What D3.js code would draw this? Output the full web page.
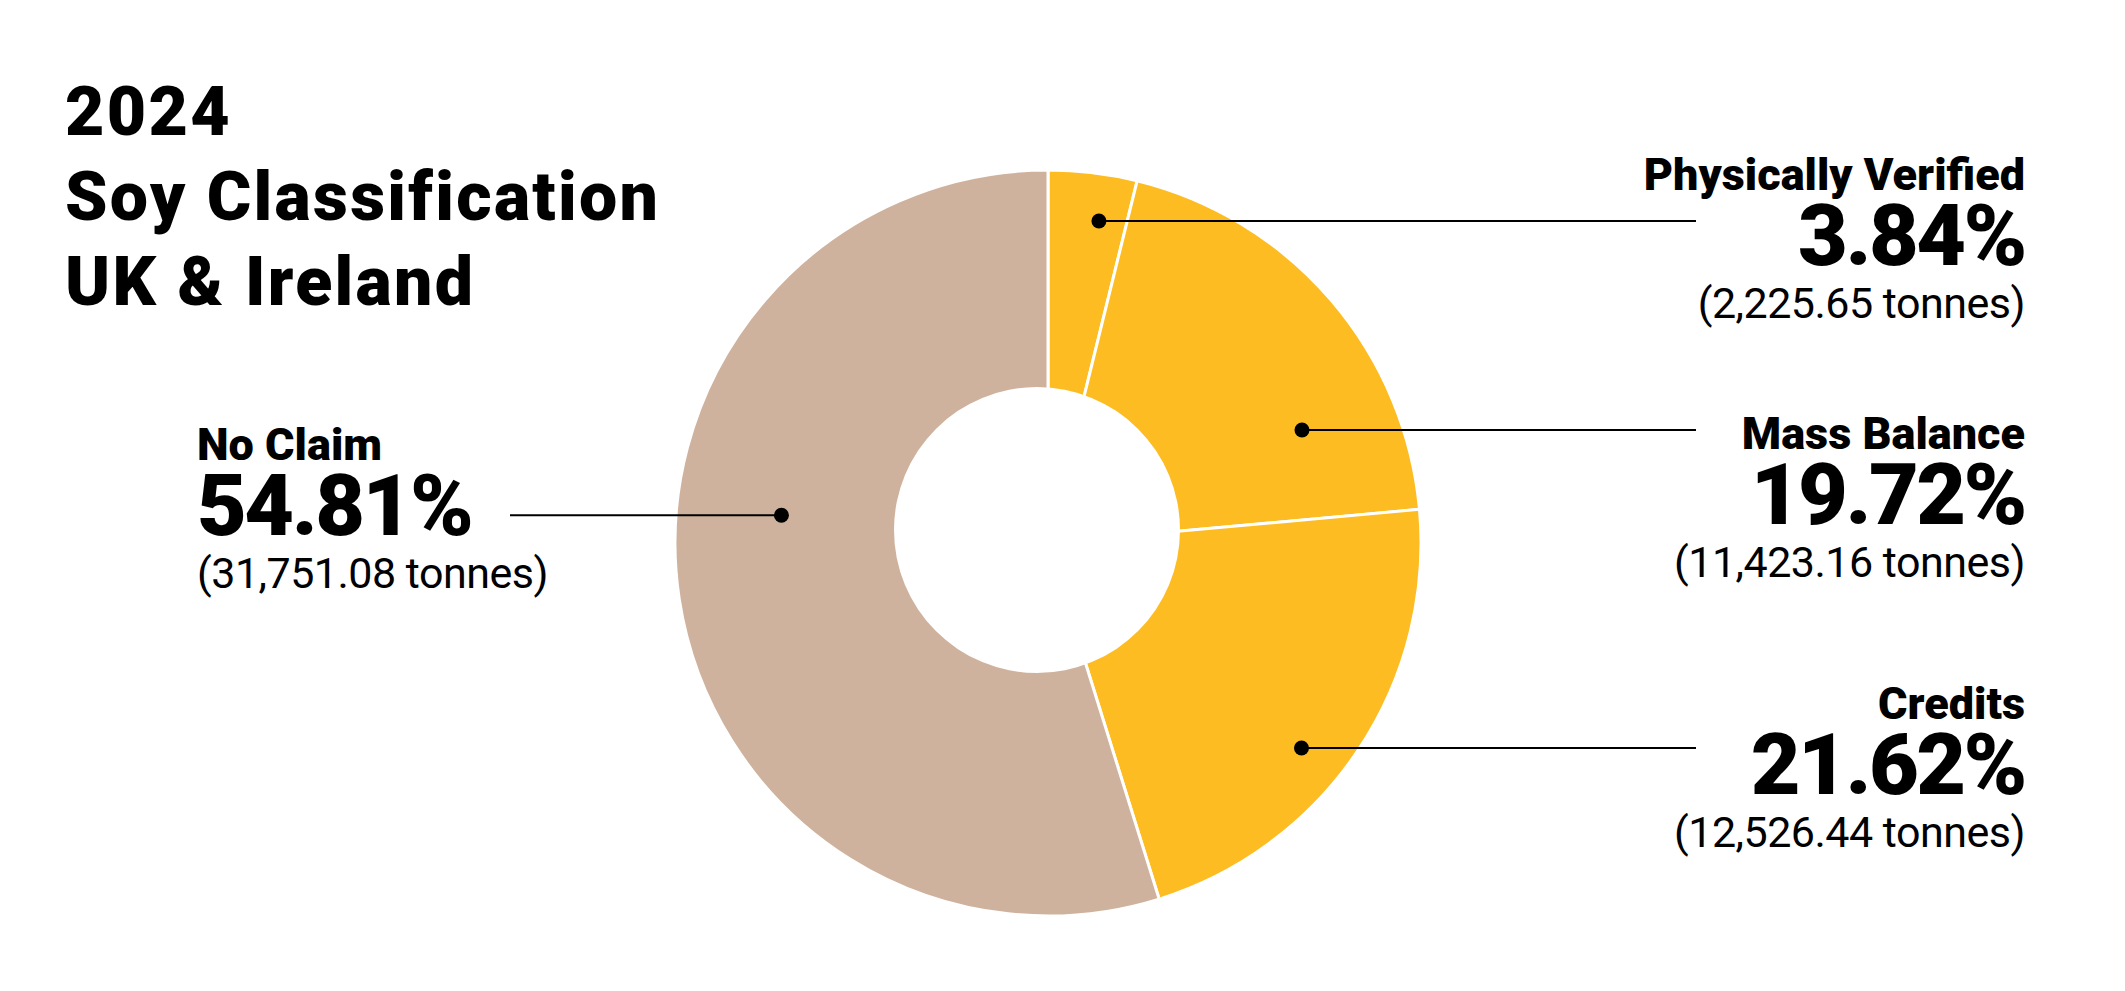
<!DOCTYPE html>
<html>
<head>
<meta charset="utf-8">
<script src="https://cdn.jsdelivr.net/npm/d3@7"></script>
<style>
  body { margin: 0; background: #fff; }
  text { font-family: Roboto, "Liberation Sans", sans-serif; fill: #000; }
</style>
</head>
<body>
<svg id="chart"></svg>
<script>
// data, clockwise from 12 o'clock
var categories = ["Physically Verified", "Mass Balance", "Credits", "No Claim"]
var percents = [3.84, 19.72, 21.62, 54.81]
var tonnes = [2225.65, 11423.16, 12526.44, 31751.08]
var colors = ["#FDBC21", "#FDBC21", "#FDBC21", "#CFB29D"]
var titleLines = ["2024", "Soy Classification", "UK & Ireland"]

var dimensions = {
    width: 2125,
    height: 991,
    cx: 1048,
    cy: 543,
    outer: 373,
    hole: 143,
    holeDx: -11,
    holeDy: -13
}

// where the marker dot sits in each slice (fraction of the slice angle, radius)
var dotT = [0.65, 0.735, 0.567, 0.574]
var dotR = [326, 278, 326, 268]
// label blocks: side, baseline of the name line
var labelSide = ["right", "right", "right", "left"]
var labelY = [190, 449, 719, 460]

var svg = d3.select("#chart")
            .attr("width", dimensions.width)
            .attr("height", dimensions.height)

var g = svg.append("g")
           .attr("transform", `translate(${dimensions.cx},${dimensions.cy})`)

var pie = d3.pie().sort(null).value(d => d)
var arcs = pie(percents)

var arc = d3.arc()
            .innerRadius(0)
            .outerRadius(dimensions.outer)

g.selectAll("path.slice")
 .data(arcs)
 .enter().append("path")
 .attr("class", "slice")
 .attr("d", arc)
 .style("fill", (d, i) => colors[i])
 .style("stroke", "#fff")
 .style("stroke-width", 3)
 .style("stroke-linejoin", "round")

// the hole sits a little up and left of the pie centre
g.append("circle")
 .attr("cx", dimensions.holeDx)
 .attr("cy", dimensions.holeDy)
 .attr("r", dimensions.hole)
 .style("fill", "#fff")

// dot positions in page coords
var dots = arcs.map((d, i) => {
    var a = d.startAngle + dotT[i] * (d.endAngle - d.startAngle)
    return [dimensions.cx + dotR[i] * Math.sin(a), dimensions.cy - dotR[i] * Math.cos(a)]
})

var lineEndRight = 1696
var lineEndLeft = 510

svg.selectAll("line.leader")
   .data(dots)
   .enter().append("line")
   .attr("class", "leader")
   .attr("x1", d => d[0])
   .attr("y1", d => d[1])
   .attr("x2", (d, i) => labelSide[i] == "right" ? lineEndRight : lineEndLeft)
   .attr("y2", d => d[1])
   .style("stroke", "#000")
   .style("stroke-width", 2)

svg.selectAll("circle.dot")
   .data(dots)
   .enter().append("circle")
   .attr("class", "dot")
   .attr("cx", d => d[0])
   .attr("cy", d => d[1])
   .attr("r", 7.5)
   .style("fill", "#000")

// labels
var fmt = d3.format(",.2f")
var labels = svg.selectAll("g.label")
   .data(categories)
   .enter().append("g")
   .attr("class", "label")
   .attr("transform", (d, i) => `translate(${labelSide[i] == "right" ? 2025 : 197},${labelY[i]})`)
   .style("text-anchor", (d, i) => labelSide[i] == "right" ? "end" : "start")

labels.append("text")
      .text(d => d)
      .style("font-size", "45px")
      .style("font-weight", 900)

labels.append("text")
      .attr("y", 75)
      .text((d, i) => percents[i].toFixed(2) + "%")
      .style("font-size", "86px")
      .style("font-weight", 900)
      .style("letter-spacing", "-2.5px")

labels.append("text")
      .attr("y", 128)
      .text((d, i) => "(" + fmt(tonnes[i]) + " tonnes)")
      .style("font-size", "43px")
      .style("font-weight", 400)
      .style("letter-spacing", "-0.5px")

// title
svg.append("g")
   .selectAll("text")
   .data(titleLines)
   .enter().append("text")
   .attr("x", 65)
   .attr("y", (d, i) => 135 + i * 85)
   .text(d => d)
   .style("font-size", "68px")
   .style("font-weight", 900)
   .style("letter-spacing", "2.3px")
</script>
</body>
</html>
